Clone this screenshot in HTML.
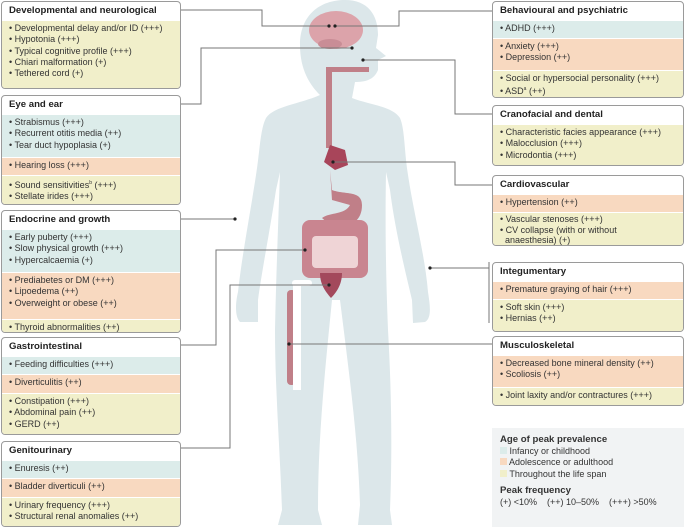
<!DOCTYPE html>
<html><head><meta charset="utf-8"><style>
body{margin:0;width:685px;height:528px;background:#fff;position:relative;overflow:hidden;font-family:"Liberation Sans",sans-serif;}
.b{position:absolute;border:1px solid #9a9a9a;border-radius:4px;overflow:hidden;background:#fff;box-sizing:border-box}
.h{font-weight:bold;font-size:9.6px;color:#222;padding:0 7px;height:18px;line-height:18px}
.s{font-size:9px;color:#333;padding:2px 7px;line-height:11.3px;border-top:1px solid #fff}
.y{background:#f1efca}.c{background:#dcecea}.o{background:#f8d9c0}
svg{position:absolute;left:0;top:0}
</style></head><body>
<svg width="685" height="528">
<path fill="#dce7ea" d="M320 95 C310 85 300 70 300 45 C300 15 320 0 345 0 C368 0 378 15 378 35 L376 48 L386 56 L378 60 L378 70 C374 80 365 82 355 82 L352 98 C370 105 392 106 400 118 C405 130 404 150 408 175 C414 215 425 255 428 292 C430 305 432 318 425 322 L413 323 L412 300 C405 270 395 230 390 190 L386 172 C385 230 386 280 388 330 C392 400 392 460 390 510 L392 525 L358 525 L360 505 C358 440 350 380 340 300 L332 300 C324 380 318 440 318 510 L322 525 L278 525 L282 510 C280 450 275 390 275 330 C276 280 278 230 280 172 L276 190 C270 230 262 270 258 300 L258 322 L240 322 C234 316 236 300 238 292 C242 255 250 215 256 175 C260 150 260 130 266 118 C274 106 300 104 320 95Z"/>
<ellipse cx="336" cy="30" rx="27" ry="19" fill="#dca3aa"/>
<ellipse cx="330" cy="44" rx="12" ry="5" fill="#c98d96"/>
<rect x="326" y="68" width="6" height="80" fill="#c07f88"/>
<rect x="326" y="67" width="43" height="5" fill="#c07f88"/>
<path d="M330 145 L345 150 L348 165 L335 170 L324 162 Z" fill="#a8455a"/>
<path d="M330 170 L332 190 C345 195 362 190 362 205 C362 225 345 228 330 225 L322 218 C330 212 345 215 350 205 L332 200 Z" fill="#c07f88"/>
<rect x="302" y="220" width="66" height="58" rx="8" fill="#c98590"/>
<rect x="312" y="236" width="46" height="32" rx="4" fill="#efd4d6"/>
<path d="M320 273 L342 273 C342 285 336 293 331 298 C326 292 320 285 320 273Z" fill="#a3495c"/>
<rect x="287" y="290" width="9" height="95" rx="4" fill="#c07f88"/>
<rect x="293" y="283" width="8" height="107" fill="#fff"/>
<rect x="292" y="280" width="20" height="6" rx="3" fill="#fff"/>
<g fill="none" stroke="#777" stroke-width="1">
<polyline points="181,10 262,10 262,26 329,26"/>
<polyline points="492,11 399,11 399,26 335,26"/>
<polyline points="181,104 201,104 201,48 352,48"/>
<polyline points="492,114 455,114 455,60 363,60"/>
<polyline points="492,185 455,185 455,162 333,162"/>
<polyline points="181,219 235,219"/>
<polyline points="181,345 216,345 216,250 305,250"/>
<polyline points="181,448 230,448 230,285 329,285"/>
<polyline points="489,262 489,323"/>
<polyline points="430,268 489,268"/>
<polyline points="492,344 289,344"/>
</g>
<g fill="#222"><circle cx="329" cy="26" r="1.6"/><circle cx="335" cy="26" r="1.6"/><circle cx="352" cy="48" r="1.6"/><circle cx="363" cy="60" r="1.6"/><circle cx="333" cy="162" r="1.6"/><circle cx="235" cy="219" r="1.6"/><circle cx="305" cy="250" r="1.6"/><circle cx="329" cy="285" r="1.6"/><circle cx="430" cy="268" r="1.6"/><circle cx="289" cy="344" r="1.6"/></g>
</svg>

<div class="b" style="left:1px;top:1px;width:180px;height:88px"><div class="h">Developmental and neurological</div><div class="s y" style="height:70px">• Developmental delay and/or ID (+++)<br>• Hypotonia (+++)<br>• Typical cognitive profile (+++)<br>• Chiari malformation (+)<br>• Tethered cord (+)</div></div>
<div class="b" style="left:1px;top:95px;width:180px;height:110px"><div class="h">Eye and ear</div><div class="s c" style="height:38px">• Strabismus (+++)<br>• Recurrent otitis media (++)<br>• Tear duct hypoplasia (+)</div><div class="s o" style="height:13px">• Hearing loss (+++)</div><div class="s y" style="height:40px">• Sound sensitivities<sup style="font-size:5px">b</sup> (+++)<br>• Stellate irides (+++)</div></div>
<div class="b" style="left:1px;top:210px;width:180px;height:123px"><div class="h">Endocrine and growth</div><div class="s c" style="height:38px">• Early puberty (+++)<br>• Slow physical growth (+++)<br>• Hypercalcaemia (+)</div><div class="s o" style="height:42px">• Prediabetes or DM (+++)<br>• Lipoedema (++)<br>• Overweight or obese (++)</div><div class="s y" style="height:30px">• Thyroid abnormalities (++)</div></div>
<div class="b" style="left:1px;top:337px;width:180px;height:98px"><div class="h">Gastrointestinal</div><div class="s c" style="height:13px">• Feeding difficulties (+++)</div><div class="s o" style="height:14px">• Diverticulitis (++)</div><div class="s y" style="height:60px">• Constipation (+++)<br>• Abdominal pain (++)<br>• GERD (++)</div></div>
<div class="b" style="left:1px;top:441px;width:180px;height:86px"><div class="h">Genitourinary</div><div class="s c" style="height:13px">• Enuresis (++)</div><div class="s o" style="height:14px">• Bladder diverticuli (++)</div><div class="s y" style="height:40px">• Urinary frequency (+++)<br>• Structural renal anomalies (++)</div></div>

<div class="b" style="left:492px;top:1px;width:192px;height:97px"><div class="h">Behavioural and psychiatric</div><div class="s c" style="height:13px">• ADHD (+++)</div><div class="s o" style="height:27px">• Anxiety (+++)<br>• Depression (++)</div><div class="s y" style="height:40px">• Social or hypersocial personality (+++)<br>• ASD<sup style="font-size:5px">a</sup> (++)</div></div>
<div class="b" style="left:492px;top:105px;width:192px;height:61px"><div class="h">Cranofacial and dental</div><div class="s y" style="height:43px">• Characteristic facies appearance (+++)<br>• Malocclusion (+++)<br>• Microdontia (+++)</div></div>
<div class="b" style="left:492px;top:175px;width:192px;height:71px"><div class="h">Cardiovascular</div><div class="s o" style="height:13px">• Hypertension (++)</div><div class="s y" style="height:40px;line-height:10.5px;padding-top:1px">• Vascular stenoses (+++)<br>• CV collapse (with or without<br>&nbsp;&nbsp;anaesthesia) (+)</div></div>
<div class="b" style="left:492px;top:262px;width:192px;height:70px"><div class="h">Integumentary</div><div class="s o" style="height:13px">• Premature graying of hair (+++)</div><div class="s y" style="height:40px">• Soft skin (+++)<br>• Hernias (++)</div></div>
<div class="b" style="left:492px;top:336px;width:192px;height:70px"><div class="h">Musculoskeletal</div><div class="s o" style="height:27px">• Decreased bone mineral density (++)<br>• Scoliosis (++)</div><div class="s y" style="height:30px">• Joint laxity and/or contractures (+++)</div></div>

<div style="position:absolute;left:492px;top:428px;width:192px;height:99px;background:#f1f3f4;font-size:9px;color:#333;padding:6px 8px;box-sizing:border-box;line-height:11.5px">
<b style="font-size:9.6px">Age of peak prevalence</b><br>
<span style="display:inline-block;width:7px;height:7px;background:#dcecea"></span> Infancy or childhood<br>
<span style="display:inline-block;width:7px;height:7px;background:#f8d9c0"></span> Adolescence or adulthood<br>
<span style="display:inline-block;width:7px;height:7px;background:#f1efca"></span> Throughout the life span<br>
<div style="height:5px"></div>
<b style="font-size:9.6px">Peak frequency</b><br>
(+) &lt;10% &nbsp;&nbsp;&nbsp;(++) 10–50% &nbsp;&nbsp;&nbsp;(+++) &gt;50%
</div>
</body></html>
